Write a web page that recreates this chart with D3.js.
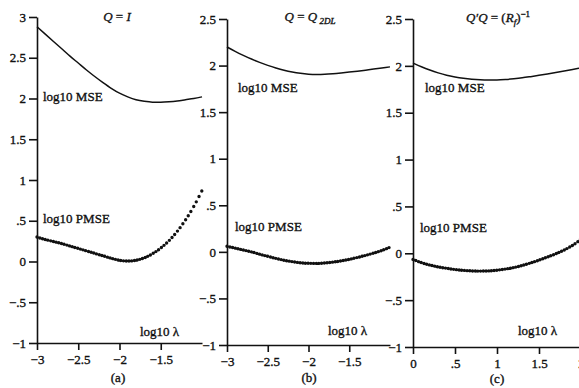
<!DOCTYPE html>
<meta charset="utf-8">
<style>
body { margin: 0; background: #fff; }
svg text { font-family: "Liberation Serif", "Times New Roman", serif; fill: #111; stroke: #111; stroke-width: 0.35px; }
.axis path, .axis line { stroke: #111; stroke-width: 1.6; }
.axis text { font-size: 13px; font-family: "Liberation Serif", serif; fill: #111; }
.mse { fill: none; stroke: #111; stroke-width: 1.5; }
.pmse { fill: none; stroke: #111; stroke-width: 3.4; stroke-linecap: round; }
.lab { font-size: 13px; }
</style>
<body>
<script src="https://d3js.org/d3.v7.min.js"></script>
<script>
var width = 579, height = 388;

// log10 lambda grid, panels (a) and (b)
var lambdaAB = [-3, -2.9, -2.8, -2.7, -2.6, -2.5, -2.4, -2.3, -2.2, -2.1, -2,
                -1.9, -1.8, -1.7, -1.6, -1.5, -1.4, -1.3, -1.2, -1.1, -1];
// log10 lambda grid, panel (c)
var lambdaC = [0, 0.1, 0.2, 0.3, 0.4, 0.5, 0.6, 0.7, 0.8, 0.9, 1,
               1.1, 1.2, 1.3, 1.4, 1.5, 1.6, 1.7, 1.8, 1.9, 2];

// (a) Q = I
var mseA  = [2.88, 2.79, 2.70, 2.61, 2.52, 2.435, 2.35, 2.27, 2.195, 2.125, 2.065,
             2.02, 1.985, 1.965, 1.955, 1.955, 1.96, 1.97, 1.985, 2.0, 2.02];
var pmseA = [0.30, 0.27, 0.245, 0.22, 0.19, 0.16, 0.13, 0.10, 0.07, 0.04, 0.015,
             0.005, 0.015, 0.045, 0.095, 0.165, 0.255, 0.37, 0.51, 0.675, 0.87];

// (b) Q = Q_2DL
var mseB  = [2.20, 2.153, 2.11, 2.07, 2.034, 2.002, 1.974, 1.95, 1.931, 1.917, 1.908,
             1.905, 1.907, 1.913, 1.921, 1.93, 1.94, 1.951, 1.962, 1.974, 1.986];
var pmseB = [0.06, 0.04, 0.02, 0.00, -0.025, -0.048, -0.07, -0.09, -0.105, -0.117, -0.123,
             -0.124, -0.12, -0.11, -0.097, -0.08, -0.06, -0.038, -0.013, 0.015, 0.05];

// (c) Q'Q = (R_f)^-1
var mseC  = [2.03, 1.99, 1.955, 1.925, 1.90, 1.882, 1.868, 1.858, 1.852, 1.85, 1.85,
             1.854, 1.862, 1.872, 1.885, 1.899, 1.914, 1.93, 1.946, 1.962, 1.978];
var pmseC = [-0.065, -0.10, -0.125, -0.145, -0.16, -0.173, -0.182, -0.188, -0.19, -0.188, -0.18,
             -0.168, -0.152, -0.13, -0.103, -0.073, -0.04, -0.005, 0.035, 0.085, 0.15];

var yTicksA  = [3, 2.5, 2, 1.5, 1, 0.5, 0, -0.5, -1];
var yTicksBC = [2.5, 2, 1.5, 1, 0.5, 0, -0.5, -1];
var xTicksAB = [-3, -2.5, -2, -1.5];
var xTicksC  = [0, 0.5, 1, 1.5, 2];
var panelLetters = ["(a)", "(b)", "(c)"];

var panels = [
  {lam: lambdaAB, mse: mseA, pmse: pmseA, xd: [-3, -1], xr: [37, 202], yd: [-1, 3], yr: [343, 17],
   yt: yTicksA, xt: xTicksAB, mseLab: [43, 101], pmseLab: [43, 223], lamLab: [140, 336],
   title: [117, 21], letter: [118, 382]},
  {lam: lambdaAB, mse: mseB, pmse: pmseB, xd: [-3, -1], xr: [227, 390], yd: [-1, 2.5], yr: [345, 19],
   yt: yTicksBC, xt: xTicksAB, mseLab: [238, 92], pmseLab: [235, 231], lamLab: [328, 335],
   title: [310, 21], letter: [309, 382]},
  {lam: lambdaC, mse: mseC, pmse: pmseC, xd: [0, 2], xr: [413, 581], yd: [-1, 2.5], yr: [347, 19],
   yt: yTicksBC, xt: xTicksC, mseLab: [425, 92], pmseLab: [420, 232], lamLab: [518, 335],
   title: [498, 22], letter: [497, 383]}
];

function fmt(v) {
  var s = d3.format("")(Math.abs(v)).replace(/^0\./, ".");
  return (v < 0 ? "\u2212" : "") + s;
}

// dots evenly spaced along x, like a densely sampled point plot
function dotDash(node, dx) {
  var L = node.getTotalLength(), pts = [0];
  var next = node.getPointAtLength(0).x + dx;
  for (var s = 0.25; s <= L; s += 0.25) {
    if (node.getPointAtLength(s).x >= next) { pts.push(s); next += dx; }
  }
  var arr = [];
  for (var i = 1; i < pts.length; i++) arr.push(0, (pts[i] - pts[i - 1]).toFixed(2));
  return arr.join(" ");
}

var svg = d3.select("body").append("svg")
  .attr("width", width)
  .attr("height", height);

panels.forEach(function(p, i) {
  var x = d3.scaleLinear().domain(p.xd).range(p.xr);
  var y = d3.scaleLinear().domain(p.yd).range(p.yr);
  var g = svg.append("g");

  g.append("g").attr("class", "axis")
    .attr("transform", "translate(0," + p.yr[0] + ")")
    .call(d3.axisBottom(x).tickValues(p.xt).tickFormat(fmt).tickSize(7).tickSizeOuter(0).tickPadding(5));
  g.append("g").attr("class", "axis")
    .attr("transform", "translate(" + p.xr[0] + ",0)")
    .call(d3.axisLeft(y).tickValues(p.yt).tickFormat(fmt).tickSize(8).tickSizeOuter(0).tickPadding(3));

  var line = d3.line()
    .x(function(d, k) { return x(p.lam[k]); })
    .y(function(d) { return y(d); })
    .curve(d3.curveMonotoneX);

  g.append("path").attr("class", "mse").attr("d", line(p.mse));
  var pm = g.append("path").attr("class", "pmse").attr("d", line(p.pmse));
  pm.attr("stroke-dasharray", dotDash(pm.node(), 2.7));

  g.append("text").attr("class", "lab").attr("x", p.mseLab[0]).attr("y", p.mseLab[1]).text("log10 MSE");
  g.append("text").attr("class", "lab").attr("x", p.pmseLab[0]).attr("y", p.pmseLab[1]).text("log10 PMSE");
  g.append("text").attr("class", "lab").attr("x", p.lamLab[0]).attr("y", p.lamLab[1]).text("log10 \u03bb");
  g.append("text").attr("class", "lab").attr("x", p.letter[0]).attr("y", p.letter[1])
    .attr("text-anchor", "middle").text(panelLetters[i]);

  var t = g.append("text").attr("class", "lab").attr("x", p.title[0]).attr("y", p.title[1])
    .attr("text-anchor", "middle");
  if (i === 0) {
    t.append("tspan").attr("font-style", "italic").text("Q");
    t.append("tspan").text(" = ");
    t.append("tspan").attr("font-style", "italic").text("I");
  } else if (i === 1) {
    t.append("tspan").attr("font-style", "italic").text("Q");
    t.append("tspan").text(" = ");
    t.append("tspan").attr("font-style", "italic").text("Q");
    t.append("tspan").attr("font-style", "italic").attr("font-size", "9px").attr("dy", 3).text(" 2DL");
  } else {
    t.append("tspan").attr("font-style", "italic").text("Q\u2032Q");
    t.append("tspan").text(" = (");
    t.append("tspan").attr("font-style", "italic").text("R");
    t.append("tspan").attr("font-style", "italic").attr("font-size", "9px").attr("dy", 3).text("f");
    t.append("tspan").attr("dy", -3).text(")");
    t.append("tspan").attr("font-size", "9px").attr("dy", -5).text("\u22121");
  }
});
</script>
